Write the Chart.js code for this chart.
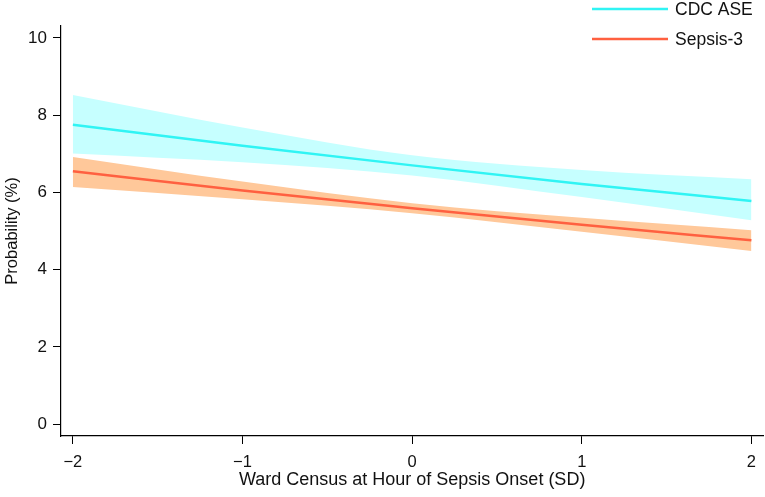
<!DOCTYPE html>
<html>
<head>
<meta charset="utf-8">
<script src="https://cdn.jsdelivr.net/npm/chart.js@4/dist/chart.umd.min.js"></script>
<style>
  html, body { margin: 0; padding: 0; background: #fff; }
  #wrap { width: 765px; height: 497px; position: relative; }
</style>
</head>
<body>
<div id="wrap"><canvas id="chart"></canvas></div>
<script>
const xValues = [-2, -1, 0, 1, 2];
const xTicks = [-2, -1, 0, 1, 2];
const yTicks = [0, 2, 4, 6, 8, 10];

const cdcMean  = [7.75, 7.21, 6.70, 6.22, 5.78];
const cdcUpper = [8.52, 7.68, 6.96, 6.58, 6.34];
const cdcLower = [7.01, 6.78, 6.44, 5.88, 5.28];

const sepMean  = [6.55, 6.05, 5.59, 5.16, 4.76];
const sepUpper = [6.92, 6.28, 5.72, 5.34, 5.02];
const sepLower = [6.14, 5.82, 5.46, 4.98, 4.48];

const fmt = v => (v < 0 ? '\u2212' + Math.abs(v) : String(v));
const pts = arr => arr.map((y, i) => ({x: xValues[i], y: y}));
const FONT = '"Liberation Sans", Arial, sans-serif';

const cyan = '#30F4F4', cyanBand = '#C6FFFF';
const orange = '#FF6040', orangeBand = '#FFC89A';

const legendPlugin = {
    id: 'sideLegend',
    afterDraw(chart) {
        const ctx = chart.ctx;
        const items = [{label: 'CDC ASE', color: cyan}, {label: 'Sepsis-3', color: orange}];
        ctx.save();
        ctx.font = '17.5px ' + FONT;
        ctx.textBaseline = 'middle';
        items.forEach((it, i) => {
            const y = 9 + i * 30;
            ctx.strokeStyle = it.color;
            ctx.lineWidth = 2.5;
            ctx.beginPath();
            ctx.moveTo(592, y);
            ctx.lineTo(668, y);
            ctx.stroke();
            ctx.fillStyle = '#111';
            ctx.fillText(it.label, 675, y + 1);
        });
        ctx.restore();
    }
};

const band = (data, color, fill) => ({
    label: 'band', data: data, borderWidth: 0, pointRadius: 0, fill: fill,
    backgroundColor: color, cubicInterpolationMode: 'monotone'
});

const ctx = document.getElementById('chart').getContext('2d');
new Chart(ctx, {
    type: 'line',
    data: {
        datasets: [
            band(pts(cdcUpper), cyanBand, false),
            band(pts(cdcLower), cyanBand, '-1'),
            band(pts(sepUpper), orangeBand, false),
            band(pts(sepLower), orangeBand, '-1'),
            {label: 'CDC ASE', data: pts(cdcMean), borderColor: cyan, borderWidth: 2.5, pointRadius: 0, fill: false, cubicInterpolationMode: 'monotone'},
            {label: 'Sepsis-3', data: pts(sepMean), borderColor: orange, borderWidth: 2.5, pointRadius: 0, fill: false, cubicInterpolationMode: 'monotone'}
        ]
    },
    options: {
        responsive: true,
        maintainAspectRatio: false,
        animation: false,
        layout: {padding: {top: 26, right: 0, left: 0, bottom: 0}},
        plugins: {
            legend: {display: false},
            tooltip: {enabled: false},
            filler: {drawTime: 'beforeDatasetsDraw'}
        },
        scales: {
            x: {
                type: 'linear',
                min: -2.07,
                max: 2.07,
                afterBuildTicks: axis => { axis.ticks = xTicks.map(v => ({value: v})); },
                afterFit: axis => { axis.height = 61; },
                grid: {display: true, drawOnChartArea: false, tickLength: 8, color: '#000', lineWidth: 1},
                border: {display: true, color: '#000', width: 1.2},
                ticks: {color: '#111', padding: 9, font: {size: 16.5, family: FONT}, callback: v => fmt(v)},
                title: {display: true, text: 'Ward Census at Hour of Sepsis Onset (SD)', color: '#111', padding: {top: 0, bottom: 6}, font: {size: 18, family: FONT}}
            },
            y: {
                type: 'linear',
                min: -0.31,
                max: 10.31,
                afterBuildTicks: axis => { axis.ticks = yTicks.map(v => ({value: v})); },
                afterFit: axis => { axis.width = 61; },
                grid: {display: true, drawOnChartArea: false, tickLength: 8, color: '#000', lineWidth: 1},
                border: {display: true, color: '#000', width: 1.2},
                ticks: {color: '#111', padding: 6, font: {size: 17, family: FONT}, callback: v => fmt(v)},
                title: {display: true, text: 'Probability (%)', color: '#111', padding: {top: 3, bottom: 0}, font: {size: 16.5, family: FONT}}
            }
        }
    },
    plugins: [legendPlugin]
});
</script>
</body>
</html>
